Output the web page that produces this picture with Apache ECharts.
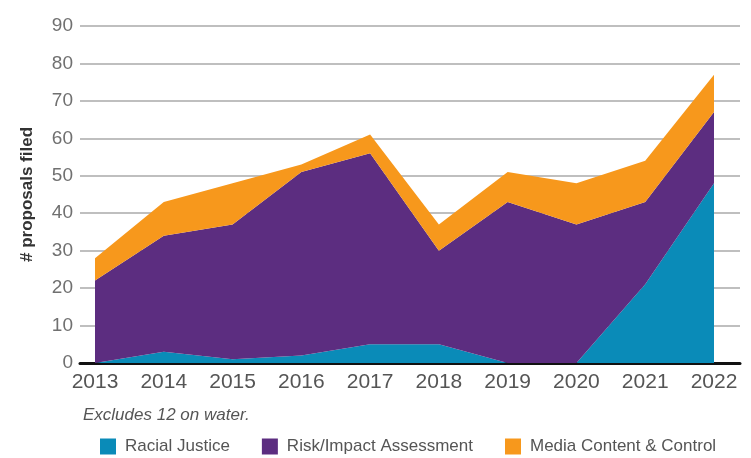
<!DOCTYPE html>
<html>
<head>
<meta charset="utf-8">
<script src="https://cdn.jsdelivr.net/npm/echarts@6/dist/echarts.min.js"></script>
<style>
html,body{margin:0;padding:0;background:#fff;}
#c{width:751px;height:458px;}
</style>
</head>
<body>
<div id="c"></div>
<script>
const years = ['2013','2014','2015','2016','2017','2018','2019','2020','2021','2022'];
const racialJustice = [0, 3, 1, 2, 5, 5, 0, 0, 21, 48];
const riskImpact = [22, 31, 36, 49, 51, 25, 43, 37, 22, 19];
const mediaContent = [6, 9, 11, 2, 5, 7, 8, 11, 11, 10];
const yTicks = [0, 10, 20, 30, 40, 50, 60, 70, 80, 90];

const chart = echarts.init(document.getElementById('c'), null, {renderer: 'canvas'});
const regular = '"Liberation Sans", Arial, sans-serif';

chart.setOption({
  animation: false,
  backgroundColor: '#ffffff',
  color: ['#0a8bb8', '#5c2d80', '#f7981c'],
  grid: [
    {left: 80, right: 11, top: 26, bottom: 95},
    {left: 95, right: 37, top: 26, bottom: 95}
  ],
  xAxis: [
    {
      gridIndex: 0, type: 'value', min: 0, max: 1,
      axisLine: {show: true, lineStyle: {color: '#111', width: 3}},
      axisTick: {show: false}, axisLabel: {show: false}, splitLine: {show: false}
    },
    {
      gridIndex: 1, type: 'category', data: years, boundaryGap: false,
      axisLine: {show: false}, axisTick: {show: false}, splitLine: {show: false},
      axisLabel: {
        fontFamily: regular, fontSize: 21, color: '#555', margin: 9,
        interval: 0
      }
    }
  ],
  yAxis: [
    {
      gridIndex: 0, type: 'value', min: yTicks[0], max: yTicks[yTicks.length - 1], interval: 10,
      name: '# proposals filed', nameLocation: 'middle', nameGap: 44,
      nameTextStyle: {fontFamily: regular, fontWeight: 'bold', fontSize: 17, color: '#333'},
      axisLine: {show: false}, axisTick: {show: false},
      axisLabel: {fontFamily: regular, fontSize: 19, color: '#707070', margin: 7, padding: [0, 0, 13, 0]},
      splitLine: {show: true, lineStyle: {color: '#aaaaaa', width: 1.5}}
    },
    {
      gridIndex: 1, type: 'value', min: yTicks[0], max: yTicks[yTicks.length - 1],
      show: false
    }
  ],
  legend: {
    left: 95, top: 433,
    icon: 'rect', itemWidth: 16, itemHeight: 16, itemGap: 32,
    textStyle: {fontFamily: regular, fontSize: 17, color: '#555', padding: [0, 0, 0, 4]},
    data: ['Racial Justice', 'Risk/Impact Assessment', 'Media Content & Control']
  },
  graphic: [
    {
      type: 'text', left: 83, top: 407,
      style: {text: 'Excludes 12 on water.', fontFamily: regular, fontStyle: 'italic', fontSize: 17, fill: '#555'}
    }
  ],
  series: [
    {
      name: 'Racial Justice', type: 'line', stack: 'total', xAxisIndex: 1, yAxisIndex: 1,
      data: racialJustice, symbol: 'none', lineStyle: {width: 0}, areaStyle: {opacity: 1}
    },
    {
      name: 'Risk/Impact Assessment', type: 'line', stack: 'total', xAxisIndex: 1, yAxisIndex: 1,
      data: riskImpact, symbol: 'none', lineStyle: {width: 0}, areaStyle: {opacity: 1}
    },
    {
      name: 'Media Content & Control', type: 'line', stack: 'total', xAxisIndex: 1, yAxisIndex: 1,
      data: mediaContent, symbol: 'none', lineStyle: {width: 0}, areaStyle: {opacity: 1}
    }
  ]
});
</script>
</body>
</html>
